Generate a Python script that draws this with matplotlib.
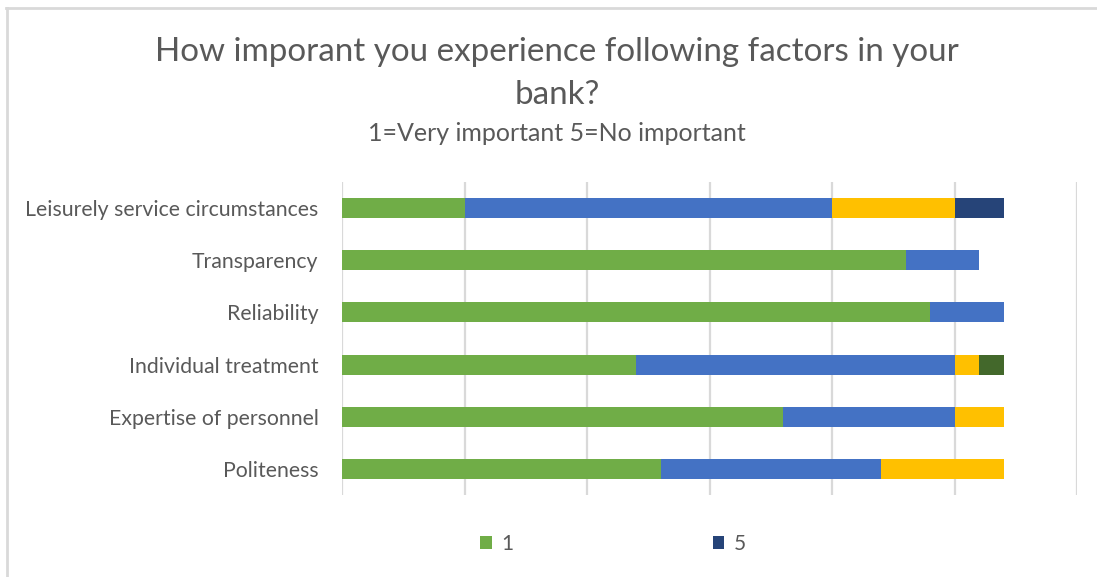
import matplotlib
matplotlib.use("Agg")
import matplotlib.pyplot as plt
from matplotlib.patches import Patch
from matplotlib.lines import Line2D

# Survey answers per factor (number of respondents giving each rating)
factors = [
    "Leisurely service circumstances",
    "Transparency",
    "Reliability",
    "Individual treatment",
    "Expertise of personnel",
    "Politeness",
]
rating_1 = [5, 23, 24, 12, 18, 13]
rating_2 = [15, 3, 3, 13, 7, 9]
rating_3 = [5, 0, 0, 1, 2, 5]
rating_4 = [0, 0, 0, 1, 0, 0]
rating_5 = [2, 0, 0, 0, 0, 0]

series_names = ["1", "2", "3", "4", "5"]
series_values = [rating_1, rating_2, rating_3, rating_4, rating_5]
series_colors = ["#70AD47", "#4472C4", "#FFC000", "#43682B", "#264478"]

title_line1 = "How imporant you experience following factors in your"
title_line2 = "bank?"
subtitle = "1=Very important 5=No important"

plt.rcParams["font.family"] = ["Lato", "DejaVu Sans"]
text_color = "#595959"
grid_color = "#D9D9D9"

W, H = 1097, 577
fig = plt.figure(figsize=(W / 100, H / 100), dpi=100)
fig.patch.set_facecolor("white")

# plot area in pixel coordinates
left, right, top, bottom = 342, 1077, 182, 495
ax = fig.add_axes([left / W, 1 - bottom / H, (right - left) / W, (bottom - top) / H])

y = list(range(len(factors)))
lefts = [0] * len(factors)
for name, vals, col in zip(series_names, series_values, series_colors):
    ax.barh(y, vals, left=lefts, height=0.385, color=col, label=name,
            edgecolor="none", zorder=3)
    lefts = [a + b for a, b in zip(lefts, vals)]

ax.set_xlim(0, 30)
ax.set_ylim(len(factors) - 0.5, -0.5)
ax.set_xticks(range(0, 31, 5))
ax.set_xticklabels([])
ax.tick_params(axis="x", length=0)
ax.tick_params(axis="y", length=0, pad=17, labelsize=15.3, labelcolor=text_color)
ax.set_yticks(y)
ax.set_yticklabels(factors)
ax.grid(axis="x", color=grid_color, linewidth=1.6, zorder=0)
for s in ax.spines.values():
    s.set_visible(False)

# title and subtitle
fig.text(557 / W, 1 - 52 / H, title_line1,
         ha="center", va="center", fontsize=23.9, color=text_color)
fig.text(557 / W, 1 - 95 / H, title_line2,
         ha="center", va="center", fontsize=23.9, color=text_color)
fig.text(557 / W, 1 - 133 / H, subtitle,
         ha="center", va="center", fontsize=18, color=text_color)

# legend showing the two extreme ratings
handles = [Patch(facecolor=series_colors[0]), Patch(facecolor=series_colors[4])]
leg = fig.legend(handles, [series_names[0], series_names[4]], ncol=2,
                 loc="center", bbox_to_anchor=(613 / W, 1 - 544 / H),
                 frameon=False, fontsize=15, handlelength=0.55, handleheight=0.55,
                 handletextpad=0.45, columnspacing=9.6)
for t in leg.get_texts():
    t.set_color(text_color)

# outer frame (top and left edges)
fig.add_artist(Line2D([6 / W, 1.0], [1 - 8 / H, 1 - 8 / H], color=grid_color,
                      linewidth=2, transform=fig.transFigure))
fig.add_artist(Line2D([7 / W, 7 / W], [0, 1 - 8 / H], color=grid_color,
                      linewidth=2, transform=fig.transFigure))

fig.savefig("out.png", dpi=100)
